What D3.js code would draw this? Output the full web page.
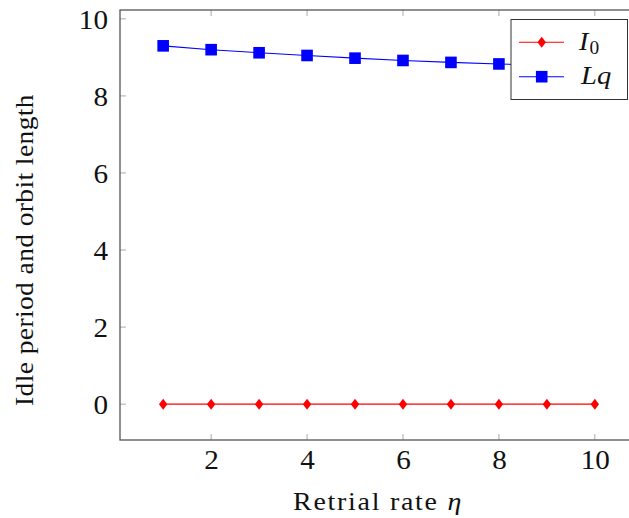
<!DOCTYPE html>
<html>
<head>
<meta charset="utf-8">
<script src="https://cdn.jsdelivr.net/npm/d3@7"></script>
<style>
  body { margin: 0; background: #fff; }
  svg { display: block; }
  text { font-family: "Liberation Serif", "DejaVu Serif", serif; fill: #111; }
</style>
</head>
<body>
<svg width="629" height="518"></svg>
<script>
// retrial rate eta
const eta = [1, 2, 3, 4, 5, 6, 7, 8, 9, 10];
// idle period I0
const idle = [0, 0, 0, 0, 0, 0, 0, 0, 0, 0];
// orbit length Lq
const lq = [9.30, 9.20, 9.12, 9.05, 8.98, 8.92, 8.87, 8.83, 8.79, 8.75];

const xTicks = [2, 4, 6, 8, 10];
const yTicks = [0, 2, 4, 6, 8, 10];

const svg = d3.select('svg');

const plotL = 120, plotT = 10, plotB = 440, plotR = 638;

const x = d3.scaleLinear().domain([0.1, 10.9]).range([plotL, plotR]);
const y = d3.scaleLinear().domain([-0.93, 10.23]).range([plotB, plotT]);

const tickLen = 6;
const sx = 1.08; // Computer Modern is a bit wider than Times

// stretch a text element horizontally around its anchor point
function stretch(sel, ax, ay, k) {
    sel.attr('x', 0).attr('y', 0)
        .attr('transform', `translate(${ax},${ay}) scale(${k},1)`);
}
// scale factor so text spans a given width
function fitWidth(node, w) {
    return w / node.getComputedTextLength();
}

// ticks (inside, mirrored)
var g = svg.append('g');
xTicks.forEach(t => {
    g.append('line').attr('x1', x(t)).attr('x2', x(t)).attr('y1', plotB).attr('y2', plotB - tickLen)
        .attr('stroke', '#aaa').attr('stroke-width', 1);
    g.append('line').attr('x1', x(t)).attr('x2', x(t)).attr('y1', plotT).attr('y2', plotT + tickLen)
        .attr('stroke', '#aaa').attr('stroke-width', 1);
});
yTicks.forEach(t => {
    g.append('line').attr('x1', plotL).attr('x2', plotL + tickLen).attr('y1', y(t)).attr('y2', y(t))
        .attr('stroke', '#aaa').attr('stroke-width', 1);
});

// frame
svg.append('rect')
    .attr('x', plotL).attr('y', plotT)
    .attr('width', plotR - plotL).attr('height', plotB - plotT)
    .attr('fill', 'none').attr('stroke', '#555').attr('stroke-width', 1.3);

// tick labels via d3 axes, with lines hidden
var xAxis = svg.append('g')
    .attr('transform', `translate(0,${plotB})`)
    .call(d3.axisBottom(x).tickValues(xTicks).tickSize(0).tickPadding(0).tickFormat(d3.format('d')));
xAxis.select('.domain').remove();
xAxis.selectAll('text')
    .attr('font-size', 27).attr('fill', '#111')
    .style('font-family', '"Liberation Serif", serif')
    .each(function() { stretch(d3.select(this), 0, 28.5, sx); })
    .attr('dy', null);

var yAxis = svg.append('g')
    .attr('transform', `translate(${plotL},0)`)
    .call(d3.axisLeft(y).tickValues(yTicks).tickSize(0).tickPadding(0).tickFormat(d3.format('d')));
yAxis.select('.domain').remove();
yAxis.selectAll('text')
    .attr('font-size', 27).attr('fill', '#111')
    .style('font-family', '"Liberation Serif", serif')
    .each(function() { stretch(d3.select(this), -12, 9.5, sx); })
    .attr('dy', null);

// lines
var line = d3.line().x((d, i) => x(eta[i])).y(d => y(d));

svg.append('path').datum(idle)
    .attr('d', line).attr('fill', 'none').attr('stroke', '#ff0000').attr('stroke-width', 1.1);
svg.append('path').datum(lq)
    .attr('d', line).attr('fill', 'none').attr('stroke', '#0000ff').attr('stroke-width', 1.1);

function diamond(sel, cx, cy) {
    sel.append('path')
        .attr('d', `M${cx},${cy - 5.5}L${cx + 4.2},${cy}L${cx},${cy + 5.5}L${cx - 4.2},${cy}Z`)
        .attr('fill', '#ff0000');
}
function square(sel, cx, cy) {
    sel.append('rect')
        .attr('x', cx - 5.8).attr('y', cy - 5.8).attr('width', 11.6).attr('height', 11.6)
        .attr('fill', '#0000ff');
}

var marks = svg.append('g');
idle.forEach((d, i) => diamond(marks, x(eta[i]), y(d)));
lq.forEach((d, i) => square(marks, x(eta[i]), y(d)));

// legend
var leg = svg.append('g');
leg.append('rect')
    .attr('x', 511).attr('y', 19.5).attr('width', 116.5).attr('height', 80)
    .attr('fill', '#fff').attr('stroke', '#333').attr('stroke-width', 1);

leg.append('line').attr('x1', 519).attr('x2', 564).attr('y1', 42.3).attr('y2', 42.3)
    .attr('stroke', '#ff0000').attr('stroke-width', 1.1);
diamond(leg, 541.7, 42.3);
leg.append('line').attr('x1', 519).attr('x2', 564).attr('y1', 76.7).attr('y2', 76.7)
    .attr('stroke', '#0000ff').attr('stroke-width', 1.1);
square(leg, 541.7, 76.7);

var t1 = leg.append('text')
    .attr('font-size', 26).attr('font-style', 'italic');
t1.append('tspan').text('I');
t1.append('tspan').attr('font-size', 18).attr('font-style', 'normal').attr('dy', 4).attr('dx', 1).text('0');
stretch(t1, 579, 50, sx);

var t2 = leg.append('text')
    .attr('font-size', 26).attr('font-style', 'italic')
    .text('Lq');
stretch(t2, 581, 84, 1.1);

// axis titles
var xt = svg.append('text')
    .attr('text-anchor', 'middle')
    .attr('font-size', 26)
    .attr('letter-spacing', 1.6);
xt.append('tspan').text('Retrial rate ');
xt.append('tspan').attr('font-style', 'italic').text('η');
stretch(xt, 378, 510, fitWidth(xt.node(), 170));

var yt = svg.append('text')
    .attr('text-anchor', 'middle')
    .attr('font-size', 26)
    .attr('letter-spacing', 0.4)
    .text('Idle period and orbit length');
var ky = fitWidth(yt.node(), 312);
yt.attr('transform', `translate(33,250) rotate(-90) scale(${ky},1)`);
</script>
</body>
</html>
